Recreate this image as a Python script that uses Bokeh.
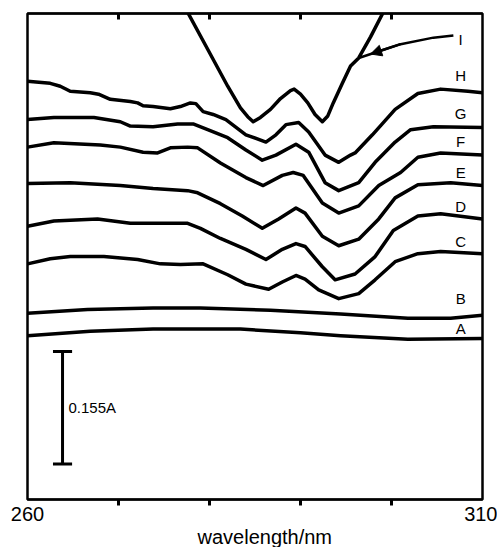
from bokeh.plotting import figure
from bokeh.models import Range1d, FixedTicker, LinearAxis, Arrow, NormalHead, Title
from bokeh.core.properties import value
from bokeh.embed import file_html
from bokeh.resources import INLINE

FONT = "Liberation Sans"

# wavelength (nm) / absorbance (A, arbitrary offset)
wl_A = [260.0, 266.9, 273.8, 283.4, 290.0, 294.4, 301.8, 310.0]
abs_A = [0.226, 0.232, 0.235, 0.235, 0.230, 0.226, 0.221, 0.222]

wl_B = [260.0, 266.6, 273.8, 279.0, 286.7, 294.4, 301.8, 306.5, 310.0]
abs_B = [0.257, 0.262, 0.264, 0.264, 0.261, 0.256, 0.250, 0.250, 0.254]

wl_C = [260.0, 262.5, 264.7, 268.4, 272.1, 274.6, 276.8, 279.3, 282.0, 284.0, 286.5,
        288.0, 289.5, 290.5, 292.0, 294.2, 296.4, 298.2, 300.4, 302.9, 305.4, 310.0]
abs_C = [0.325, 0.332, 0.335, 0.335, 0.331, 0.325, 0.324, 0.325, 0.310, 0.297, 0.290,
         0.300, 0.309, 0.304, 0.289, 0.277, 0.284, 0.303, 0.328, 0.339, 0.342, 0.339]

wl_D = [260.0, 262.9, 267.7, 271.3, 277.6, 279.0, 281.2, 284.0, 286.2, 288.0, 289.5,
        290.5, 292.4, 293.8, 296.0, 298.2, 300.2, 302.9, 305.4, 310.0]
abs_D = [0.377, 0.384, 0.387, 0.381, 0.381, 0.374, 0.360, 0.345, 0.331, 0.345, 0.353,
         0.349, 0.321, 0.303, 0.311, 0.335, 0.371, 0.391, 0.394, 0.387]

wl_E = [260.0, 264.7, 270.2, 273.8, 277.6, 278.7, 281.2, 283.6, 285.8, 287.6, 289.5,
        290.5, 292.4, 294.2, 296.4, 298.6, 300.4, 302.9, 306.5, 310.0]
abs_E = [0.436, 0.437, 0.433, 0.429, 0.426, 0.423, 0.408, 0.391, 0.374, 0.387, 0.402,
         0.395, 0.363, 0.350, 0.359, 0.387, 0.416, 0.434, 0.437, 0.433]

wl_F = [260.0, 262.9, 268.0, 270.2, 272.7, 274.3, 275.7, 277.6, 278.7, 281.2, 284.0,
        285.9, 288.0, 289.2, 290.3, 292.4, 294.2, 296.4, 298.6, 301.0, 302.9, 305.4, 310.0]
abs_F = [0.486, 0.492, 0.489, 0.486, 0.479, 0.478, 0.485, 0.486, 0.485, 0.464, 0.444,
         0.433, 0.447, 0.451, 0.447, 0.409, 0.395, 0.405, 0.433, 0.451, 0.472, 0.478, 0.475]

wl_G = [260.0, 262.9, 267.3, 270.2, 271.3, 273.8, 276.5, 278.2, 279.8, 282.0, 284.0,
        285.8, 287.3, 289.5, 290.9, 292.7, 294.2, 296.4, 298.2, 300.4, 302.1, 304.6, 310.0]
abs_G = [0.524, 0.527, 0.527, 0.521, 0.515, 0.514, 0.518, 0.518, 0.510, 0.499, 0.482,
         0.468, 0.475, 0.490, 0.479, 0.437, 0.426, 0.437, 0.465, 0.493, 0.510, 0.514, 0.513]

wl_H = [260.0, 262.5, 263.6, 264.7, 266.9, 267.8, 269.1, 271.3, 272.1, 272.7, 273.8,
        275.7, 276.8, 277.9, 278.5, 279.3, 280.4, 281.8, 284.0, 286.2, 287.3, 288.4,
        289.8, 290.9, 292.7, 294.2, 295.5, 296.0, 297.9, 300.4, 302.9, 305.4, 308.4, 310.0]
abs_H = [0.577, 0.574, 0.570, 0.563, 0.561, 0.559, 0.552, 0.549, 0.547, 0.543, 0.542,
         0.539, 0.542, 0.547, 0.546, 0.535, 0.531, 0.524, 0.503, 0.493, 0.503, 0.517,
         0.520, 0.507, 0.475, 0.465, 0.475, 0.478, 0.503, 0.538, 0.560, 0.566, 0.563, 0.561]

wl_I = [277.25, 279.8, 282.0, 283.4, 284.2, 284.8, 285.6, 286.7, 287.8, 288.9, 289.3,
        290.0, 290.8, 291.6, 292.4, 293.0, 293.6, 294.6, 295.5, 296.4, 297.7, 299.3]
abs_I = [0.680, 0.621, 0.570, 0.540, 0.528, 0.521, 0.527, 0.538, 0.553, 0.564, 0.566,
         0.559, 0.547, 0.531, 0.521, 0.529, 0.547, 0.574, 0.598, 0.609, 0.638, 0.677]

series_names = ["A", "B", "C", "D", "E", "F", "G", "H", "I"]
series_wl = [wl_A, wl_B, wl_C, wl_D, wl_E, wl_F, wl_G, wl_H, wl_I]
series_abs = [abs_A, abs_B, abs_C, abs_D, abs_E, abs_F, abs_G, abs_H, abs_I]

# curve labels
label_text = ["I", "H", "G", "F", "E", "D", "C", "B", "A"]
label_x = [307.6, 307.6, 307.6, 307.6, 307.6, 307.6, 307.6, 307.6, 307.6]
label_y = [0.635, 0.585, 0.533, 0.494, 0.451, 0.404, 0.356, 0.277, 0.236]

# leader line from label I to curve I
arrow_wl = [306.8, 304.6, 301.0, 298.8, 296.4]
arrow_abs = [0.640, 0.637, 0.628, 0.619, 0.609]

# scale bar
bar_len = 0.155
bar_text = "0.155A"
bar_x = 263.85
bar_bottom = 0.049

x_ticks_major = [260, 310]
x_ticks_minor = [270, 280, 290, 300]
x_title = "wavelength/nm"

p = figure(width=497, height=547, output_backend="svg", toolbar_location=None,
           x_range=Range1d(260, 310), y_range=Range1d(0, 0.6703),
           y_axis_location=None, x_axis_location="below",
           min_border_left=27, min_border_right=15, min_border_top=13,
           min_border_bottom=0)
p.background_fill_color = "white"
p.border_fill_color = "white"
p.xgrid.visible = False
p.ygrid.visible = False
p.outline_line_color = "black"
p.outline_line_width = 2.5

ax = p.xaxis[0]
ax.ticker = FixedTicker(ticks=x_ticks_major, minor_ticks=x_ticks_minor)
ax.axis_line_width = 2
ax.major_tick_out = 0
ax.major_tick_in = 0
ax.minor_tick_out = 6
ax.minor_tick_in = 0
ax.minor_tick_line_width = 3
ax.major_label_text_font = FONT
ax.major_label_text_font_size = "20px"
ax.major_label_text_color = "black"
ax.major_label_standoff = 1

top = LinearAxis(ticker=FixedTicker(ticks=[], minor_ticks=x_ticks_minor))
top.axis_line_width = 2
top.major_tick_out = 0
top.major_tick_in = 0
top.minor_tick_out = 0
top.minor_tick_in = 6
top.minor_tick_line_width = 3
top.major_label_standoff = 0
p.add_layout(top, "above")

p.add_layout(Title(text=x_title, align="left", offset=170, standoff=0,
                   text_font=FONT, text_font_size="20px", text_font_style="normal",
                   text_color="black"), "below")

for name, xs, ys in zip(series_names, series_wl, series_abs):
    p.line(xs, ys, line_color="black", line_width=3.5, line_join="round", line_cap="round")

p.line(arrow_wl, arrow_abs, line_color="black", line_width=2.5, line_join="round")
p.add_layout(Arrow(end=NormalHead(size=11, fill_color="black", line_color="black"),
                   x_start=arrow_wl[2], y_start=arrow_abs[2],
                   x_end=297.7, y_end=0.6144, line_color="black", line_width=2.5))

p.text(x=label_x, y=label_y, text=label_text, text_font=value(FONT),
       text_font_size=value("15px"), text_align="center", text_baseline="middle",
       text_color="black")

# scale bar
p.segment(x0=[bar_x], y0=[bar_bottom], x1=[bar_x], y1=[bar_bottom + bar_len],
          line_color="black", line_width=3)
p.segment(x0=[bar_x - 1.05, bar_x - 1.05], y0=[bar_bottom, bar_bottom + bar_len],
          x1=[bar_x + 1.05, bar_x + 1.05], y1=[bar_bottom, bar_bottom + bar_len],
          line_color="black", line_width=3)
p.text(x=[bar_x + 0.65], y=[bar_bottom + bar_len * 0.5], text=[bar_text],
       text_font=value(FONT), text_font_size=value("15px"), text_align="left",
       text_baseline="middle", text_color="black")

open("out.html", "w").write(file_html(p, INLINE))
